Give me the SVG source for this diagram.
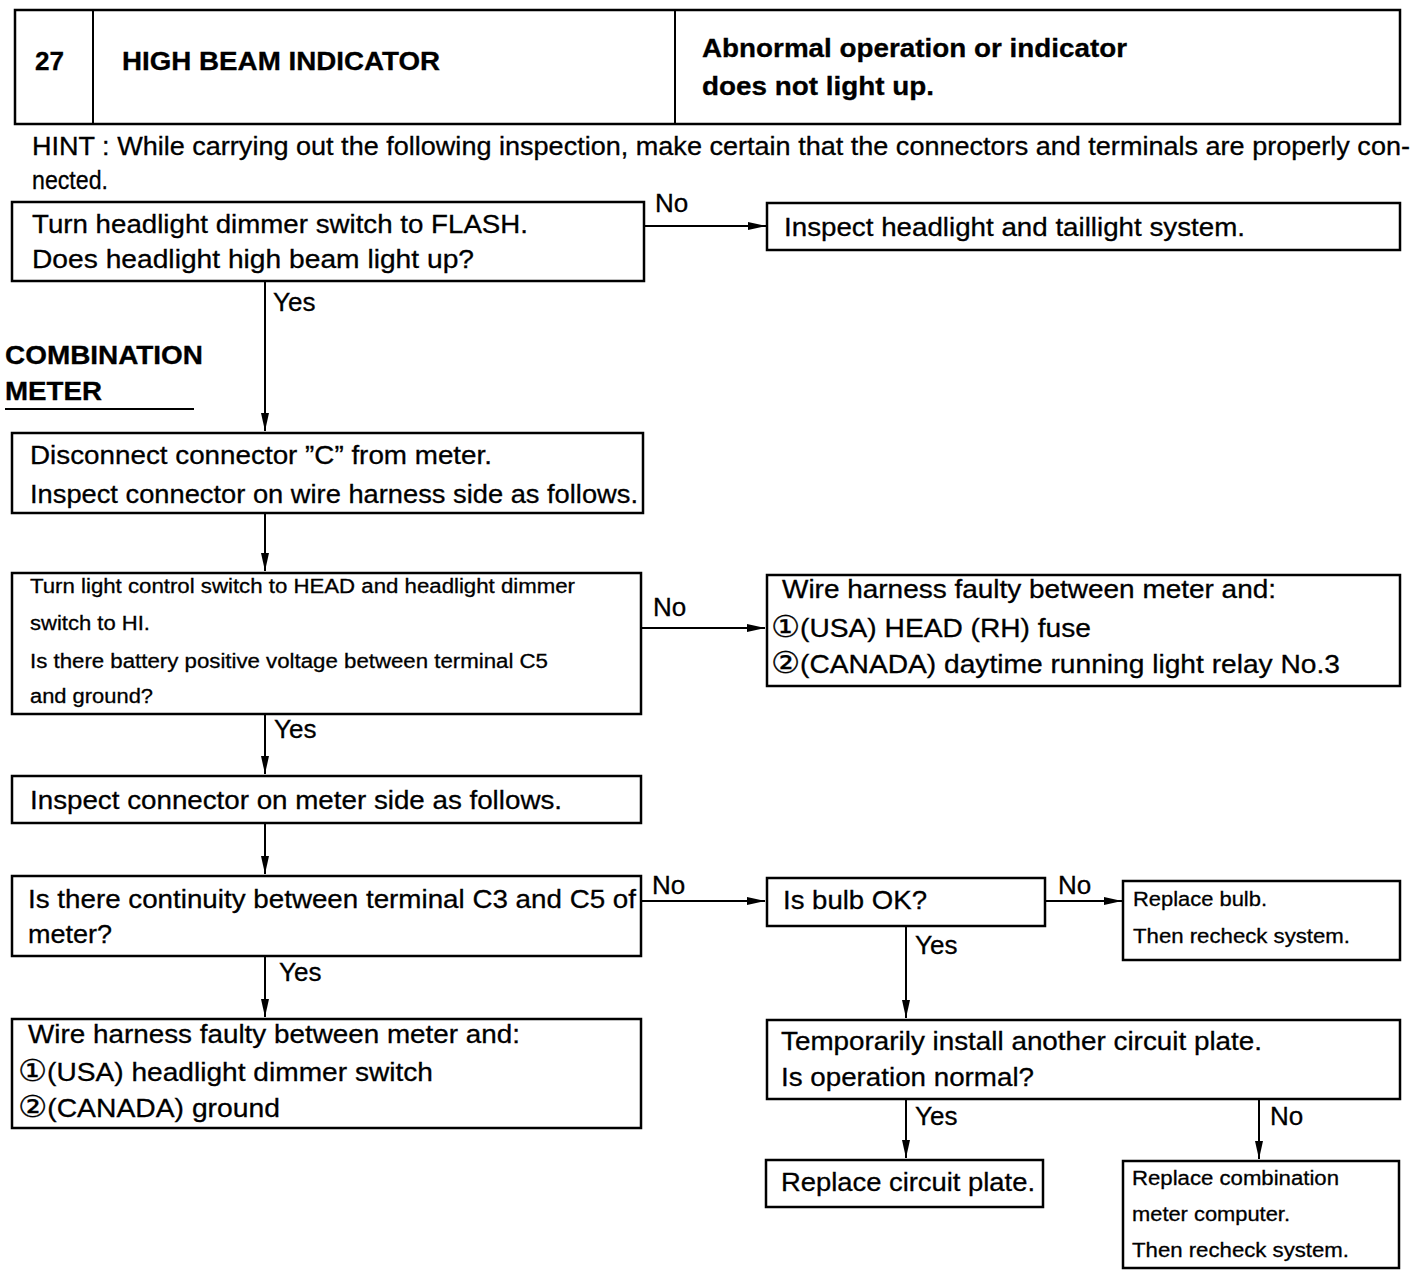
<svg xmlns="http://www.w3.org/2000/svg" width="1424" height="1278" viewBox="0 0 1424 1278">
<style>
text{font-family:"Liberation Sans","DejaVu Sans",Arial,sans-serif;fill:#000;stroke:#000;stroke-width:0.3}
.t{font-size:26px}
.s{font-size:20px}
.b{font-weight:bold;font-size:25px}
.c{font-size:30px;font-family:"DejaVu Sans",sans-serif}
.box{fill:#fff;stroke:#000;stroke-width:2.5}
.ln{fill:none;stroke:#000;stroke-width:2}
</style>
<defs>
<marker id="ah" viewBox="0 0 18 10" refX="18" refY="5" markerWidth="18" markerHeight="10" markerUnits="userSpaceOnUse" orient="auto">
<path d="M0,1 L18,5 L0,9 Z" fill="#000"/>
</marker>
</defs>
<rect width="1424" height="1278" fill="#fff"/>

<g id="header">
<rect class="box" x="15" y="10" width="1385" height="114"/>
<line class="ln" x1="93" y1="10" x2="93" y2="124"/>
<line class="ln" x1="675" y1="10" x2="675" y2="124"/>
<text class="b" x="35" y="70" textLength="29" lengthAdjust="spacingAndGlyphs">27</text>
<text class="b" x="122" y="70" textLength="318" lengthAdjust="spacingAndGlyphs">HIGH BEAM INDICATOR</text>
<text class="b" x="702" y="57" textLength="425" lengthAdjust="spacingAndGlyphs">Abnormal operation or indicator</text>
<text class="b" x="702" y="95" textLength="232" lengthAdjust="spacingAndGlyphs">does not light up.</text>
</g>

<g id="hint">
<text class="t" x="32" y="155" textLength="1378" lengthAdjust="spacingAndGlyphs">HINT : While carrying out the following inspection, make certain that the connectors and terminals are properly con-</text>
<text class="t" x="32" y="189" textLength="76" lengthAdjust="spacingAndGlyphs">nected.</text>
</g>

<g id="section-label">
<text class="b" x="5" y="364" textLength="198" lengthAdjust="spacingAndGlyphs">COMBINATION</text>
<text class="b" x="5" y="400" textLength="97" lengthAdjust="spacingAndGlyphs">METER</text>
<line class="ln" x1="5" y1="409" x2="194" y2="409"/>
</g>

<g id="connectors">
<line class="ln" x1="644" y1="226" x2="766" y2="226" marker-end="url(#ah)"/>
<line class="ln" x1="265" y1="281" x2="265" y2="431" marker-end="url(#ah)"/>
<line class="ln" x1="265" y1="513" x2="265" y2="571" marker-end="url(#ah)"/>
<line class="ln" x1="641" y1="628" x2="765" y2="628" marker-end="url(#ah)"/>
<line class="ln" x1="265" y1="714" x2="265" y2="774" marker-end="url(#ah)"/>
<line class="ln" x1="265" y1="823" x2="265" y2="874" marker-end="url(#ah)"/>
<line class="ln" x1="641" y1="901" x2="765" y2="901" marker-end="url(#ah)"/>
<line class="ln" x1="1045" y1="901" x2="1122" y2="901" marker-end="url(#ah)"/>
<line class="ln" x1="265" y1="956" x2="265" y2="1017" marker-end="url(#ah)"/>
<line class="ln" x1="906" y1="926" x2="906" y2="1018" marker-end="url(#ah)"/>
<line class="ln" x1="906" y1="1099" x2="906" y2="1158" marker-end="url(#ah)"/>
<line class="ln" x1="1259" y1="1099" x2="1259" y2="1159" marker-end="url(#ah)"/>
<text class="t" x="655" y="212">No</text>
<text class="t" x="273" y="311">Yes</text>
<text class="t" x="653" y="616">No</text>
<text class="t" x="274" y="738">Yes</text>
<text class="t" x="652" y="894">No</text>
<text class="t" x="1058" y="894">No</text>
<text class="t" x="279" y="981">Yes</text>
<text class="t" x="915" y="954">Yes</text>
<text class="t" x="915" y="1125">Yes</text>
<text class="t" x="1270" y="1125">No</text>
</g>

<g id="n1">
<rect class="box" x="12" y="202" width="632" height="79"/>
<text class="t" x="32" y="233" textLength="496" lengthAdjust="spacingAndGlyphs">Turn headlight dimmer switch to FLASH.</text>
<text class="t" x="32" y="268" textLength="442" lengthAdjust="spacingAndGlyphs">Does headlight high beam light up?</text>
</g>

<g id="n2">
<rect class="box" x="767" y="203" width="633" height="47"/>
<text class="t" x="784" y="236" textLength="461" lengthAdjust="spacingAndGlyphs">Inspect headlight and taillight system.</text>
</g>

<g id="n3">
<rect class="box" x="12" y="433" width="631" height="80"/>
<text class="t" x="30" y="464" textLength="462" lengthAdjust="spacingAndGlyphs">Disconnect connector ”C” from meter.</text>
<text class="t" x="30" y="503" textLength="608" lengthAdjust="spacingAndGlyphs">Inspect connector on wire harness side as follows.</text>
</g>

<g id="n4">
<rect class="box" x="12" y="573" width="629" height="141"/>
<text class="s" x="30" y="593" textLength="545" lengthAdjust="spacingAndGlyphs">Turn light control switch to HEAD and headlight dimmer</text>
<text class="s" x="30" y="630" textLength="120" lengthAdjust="spacingAndGlyphs">switch to HI.</text>
<text class="s" x="30" y="668" textLength="518" lengthAdjust="spacingAndGlyphs">Is there battery positive voltage between terminal C5</text>
<text class="s" x="30" y="703" textLength="123" lengthAdjust="spacingAndGlyphs">and ground?</text>
</g>

<g id="n5">
<rect class="box" x="767" y="575" width="633" height="111"/>
<text class="t" x="782" y="598" textLength="494" lengthAdjust="spacingAndGlyphs">Wire harness faulty between meter and:</text>
<text class="t" x="771" y="637" textLength="320" lengthAdjust="spacingAndGlyphs"><tspan class="c">①</tspan>(USA) HEAD (RH) fuse</text>
<text class="t" x="771" y="673" textLength="569" lengthAdjust="spacingAndGlyphs"><tspan class="c">②</tspan>(CANADA) daytime running light relay No.3</text>
</g>

<g id="n6">
<rect class="box" x="12" y="776" width="629" height="47"/>
<text class="t" x="30" y="809" textLength="532" lengthAdjust="spacingAndGlyphs">Inspect connector on meter side as follows.</text>
</g>

<g id="n7">
<rect class="box" x="12" y="876" width="629" height="80"/>
<text class="t" x="28" y="908" textLength="608" lengthAdjust="spacingAndGlyphs">Is there continuity between terminal C3 and C5 of</text>
<text class="t" x="28" y="943" textLength="84" lengthAdjust="spacingAndGlyphs">meter?</text>
</g>

<g id="n8">
<rect class="box" x="767" y="878" width="278" height="48"/>
<text class="t" x="783" y="909" textLength="144" lengthAdjust="spacingAndGlyphs">Is bulb OK?</text>
</g>

<g id="n9">
<rect class="box" x="1123" y="881" width="277" height="79"/>
<text class="s" x="1133" y="906" textLength="134" lengthAdjust="spacingAndGlyphs">Replace bulb.</text>
<text class="s" x="1133" y="943" textLength="217" lengthAdjust="spacingAndGlyphs">Then recheck system.</text>
</g>

<g id="n10">
<rect class="box" x="12" y="1019" width="629" height="109"/>
<text class="t" x="28" y="1043" textLength="492" lengthAdjust="spacingAndGlyphs">Wire harness faulty between meter and:</text>
<text class="t" x="18" y="1081" textLength="415" lengthAdjust="spacingAndGlyphs"><tspan class="c">①</tspan>(USA) headlight dimmer switch</text>
<text class="t" x="18" y="1117" textLength="262" lengthAdjust="spacingAndGlyphs"><tspan class="c">②</tspan>(CANADA) ground</text>
</g>

<g id="n11">
<rect class="box" x="767" y="1020" width="633" height="79"/>
<text class="t" x="781" y="1050" textLength="481" lengthAdjust="spacingAndGlyphs">Temporarily install another circuit plate.</text>
<text class="t" x="781" y="1086" textLength="253" lengthAdjust="spacingAndGlyphs">Is operation normal?</text>
</g>

<g id="n12">
<rect class="box" x="766" y="1160" width="277" height="47"/>
<text class="t" x="781" y="1191" textLength="254" lengthAdjust="spacingAndGlyphs">Replace circuit plate.</text>
</g>

<g id="n13">
<rect class="box" x="1123" y="1161" width="276" height="107"/>
<text class="s" x="1132" y="1185" textLength="207" lengthAdjust="spacingAndGlyphs">Replace combination</text>
<text class="s" x="1132" y="1221" textLength="158" lengthAdjust="spacingAndGlyphs">meter computer.</text>
<text class="s" x="1132" y="1257" textLength="217" lengthAdjust="spacingAndGlyphs">Then recheck system.</text>
</g>
</svg>
